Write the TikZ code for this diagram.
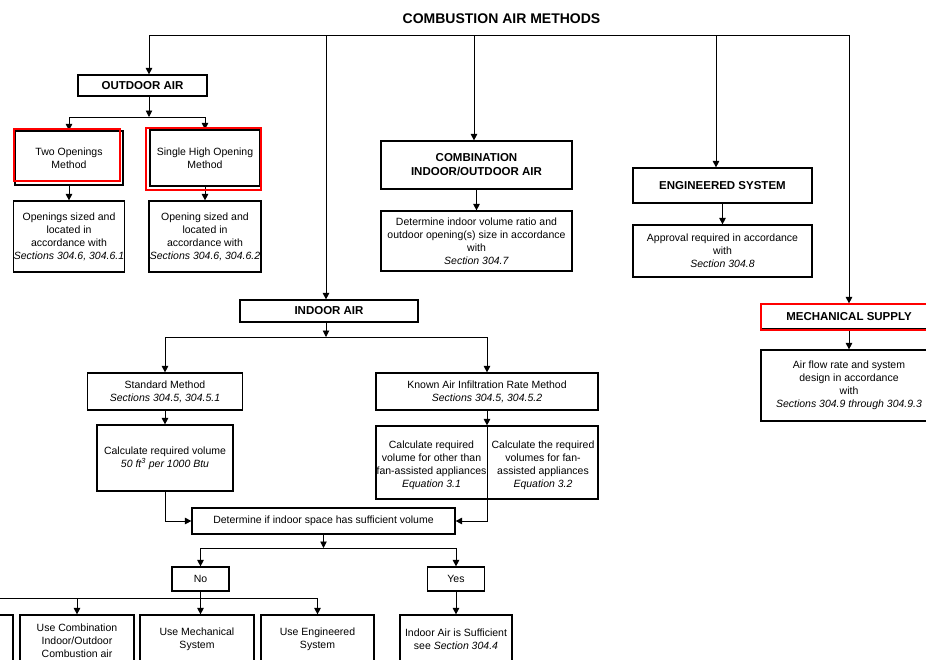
\documentclass[tikz,border=0pt]{standalone}
\usepackage{fontspec}
\setmainfont{Liberation Sans}
\usetikzlibrary{arrows.meta}

\begin{document}
\begin{tikzpicture}[x=1pt,y=-1pt,
  box/.style={draw,line width=1.2pt,inner sep=0pt,align=center,
    font=\fontsize{10.5}{13}\selectfont},
  hbox/.style={box,font=\bfseries\fontsize{11.5}{14}\selectfont},
  txt/.style={inner sep=0pt,align=center,font=\fontsize{10.5}{13}\selectfont},
  wire/.style={line width=0.9pt},
  arr/.style={wire,-{Triangle[length=6.5pt,width=6.5pt]}},
  hilite/.style={draw=red,line width=2.2pt}]
  \useasboundingbox (0,0) rectangle (926,659);
  \clip (0,0) rectangle (926,659);

  \node[font=\bfseries\fontsize{14}{16}\selectfont] (title) at (501.5,19) {COMBUSTION AIR METHODS};

  % drop points on the top line
  \coordinate (dout) at (149,35);
  \coordinate (dind) at (326,35);
  \coordinate (dcom) at (474,35);
  \coordinate (deng) at (716,35);
  \coordinate (dmech) at (849,35);

  % outdoor air
  \node[hbox,minimum width=129pt,minimum height=21pt] (outdoor) at (142.5,85.5) {OUTDOOR AIR};
  \node[box,minimum width=108pt,minimum height=54pt] (twoopen) at (69,158) {Two Openings\\Method};
  \node[box,minimum width=110pt,minimum height=56pt] (singleopen) at (205,158) {Single High Opening\\Method};
  \node[box,minimum width=111pt,minimum height=71pt] (twosize) at (69,236.5) {Openings sized and\\located in\\accordance with\\\textit{Sections 304.6, 304.6.1}};
  \node[box,minimum width=112pt,minimum height=71pt] (singlesize) at (205,236.5) {Opening sized and\\located in\\accordance with\\\textit{Sections 304.6, 304.6.2}};

  % combination, engineered, mechanical
  \node[hbox,minimum width=191pt,minimum height=48pt] (combo) at (476.5,165) {COMBINATION\\INDOOR/OUTDOOR AIR};
  \node[box,minimum width=191pt,minimum height=60pt] (comboratio) at (476.5,241) {Determine indoor volume ratio and\\outdoor opening(s) size in accordance\\with\\\textit{Section 304.7}};
  \node[hbox,minimum width=179pt,minimum height=35pt] (engsys) at (722.5,185.5) {ENGINEERED SYSTEM};
  \node[box,minimum width=179pt,minimum height=52pt] (approval) at (722.5,251) {Approval required in accordance\\with\\\textit{Section 304.8}};
  \node[hbox,minimum width=176pt,minimum height=25pt] (mech) at (849,316.5) {MECHANICAL SUPPLY};
  \node[box,minimum width=176pt,minimum height=71pt] (airflow) at (849,385.5) {Air flow rate and system\\design in accordance\\with\\\textit{Sections 304.9 through 304.9.3}};

  % indoor air
  \node[hbox,minimum width=178pt,minimum height=22pt] (indoor) at (329,311) {INDOOR AIR};
  \node[box,minimum width=155pt,minimum height=37pt] (standard) at (165,391.5) {Standard Method\\\textit{Sections 304.5, 304.5.1}};
  \node[box,minimum width=136pt,minimum height=66pt] (stdvol) at (165,458) {Calculate required volume\\\textit{50 ft\textsuperscript{3} per 1000 Btu}};
  \node[box,minimum width=222pt,minimum height=37pt] (known) at (487,391.5) {Known Air Infiltration Rate Method\\\textit{Sections 304.5, 304.5.2}};
  \node[box,minimum width=222pt,minimum height=73pt] (knownvol) at (487,462.5) {};
  \node[txt] (otherapp) at (431.5,465) {Calculate required\\volume for other than\\fan-assisted appliances\\\textit{Equation 3.1}};
  \node[txt] (fanapp) at (543,465) {Calculate the required\\volumes for fan-\\assisted appliances\\\textit{Equation 3.2}};
  \node[box,minimum width=263pt,minimum height=26pt] (enough) at (323.5,521) {Determine if indoor space has sufficient volume};
  \node[box,minimum width=57pt,minimum height=24pt] (no) at (200.5,579) {No};
  \node[box,minimum width=57pt,minimum height=24pt] (yes) at (456,579) {Yes};

  % bottom row
  \node[box,minimum width=116pt,minimum height=52pt] (useother) at (-45,641) {};
  \node[box,minimum width=114pt,minimum height=52pt] (usecombo) at (77,641) {Use Combination\\Indoor/Outdoor\\Combustion air};
  \node[box,minimum width=114pt,minimum height=49pt] (usemech) at (197,639.5) {Use Mechanical\\System};
  \node[box,minimum width=113pt,minimum height=49pt] (useeng) at (317.5,639.5) {Use Engineered\\System};
  \node[box,minimum width=112pt,minimum height=49pt] (sufficient) at (456,639.5) {Indoor Air is Sufficient\\see \textit{Section 304.4}};

  % top line
  \draw[wire] (dout) -- (dmech);
  \draw[arr] (dout) -- (dout |- outdoor.north);
  \draw[arr] (dind) -- (dind |- indoor.north);
  \draw[arr] (dcom) -- (dcom |- combo.north);
  \draw[arr] (deng) -- (deng |- engsys.north);
  \draw[arr] (dmech) -- (mech.north);

  \coordinate (jout) at (149,117);
  \draw[arr] (dout |- outdoor.south) -- (jout);
  \draw[arr] (jout) -| (twoopen.north);
  \draw[arr] (jout) -| (singleopen.north);
  \draw[arr] (twoopen.south) -- (twosize.north);
  \draw[arr] (singleopen.south) -- (singlesize.north);

  \draw[arr] (combo.south) -- (comboratio.north);
  \draw[arr] (engsys.south) -- (approval.north);
  \draw[arr] (mech.south) -- (airflow.north);

  \coordinate (jind) at (326,337);
  \draw[arr] (dind |- indoor.south) -- (jind);
  \draw[arr] (jind) -| (standard.north);
  \draw[arr] (jind) -| (known.north);
  \draw[arr] (standard.south) -- (stdvol.north);
  \draw[arr] (known.south) -- (knownvol.north);
  \draw[arr] (knownvol.north) |- (enough.east);
  \draw[arr] (stdvol.south) |- (enough.west);

  \coordinate (jans) at (323.5,548);
  \draw[arr] (enough.south) -- (jans);
  \draw[arr] (jans) -| (no.north);
  \draw[arr] (jans) -| (yes.north);

  \coordinate (jno) at (200.5,598);
  \draw[wire] (no.south) -- (jno);
  \draw[wire] (jno -| useother) -- (jno -| useeng);
  \draw[arr] (jno -| useother) -- (useother.north);
  \draw[arr] (jno -| usecombo) -- (usecombo.north);
  \draw[arr] (jno) -- (jno |- usemech.north);
  \draw[arr] (jno -| useeng) -- (useeng.north);
  \draw[arr] (yes.south) -- (sufficient.north);

  % red marks
  \draw[hilite] (14,129) rectangle (120,181);
  \draw[hilite] (146,128) rectangle (261,190);
  \draw[hilite] (761,304) rectangle (935,330);
\end{tikzpicture}
\end{document}
